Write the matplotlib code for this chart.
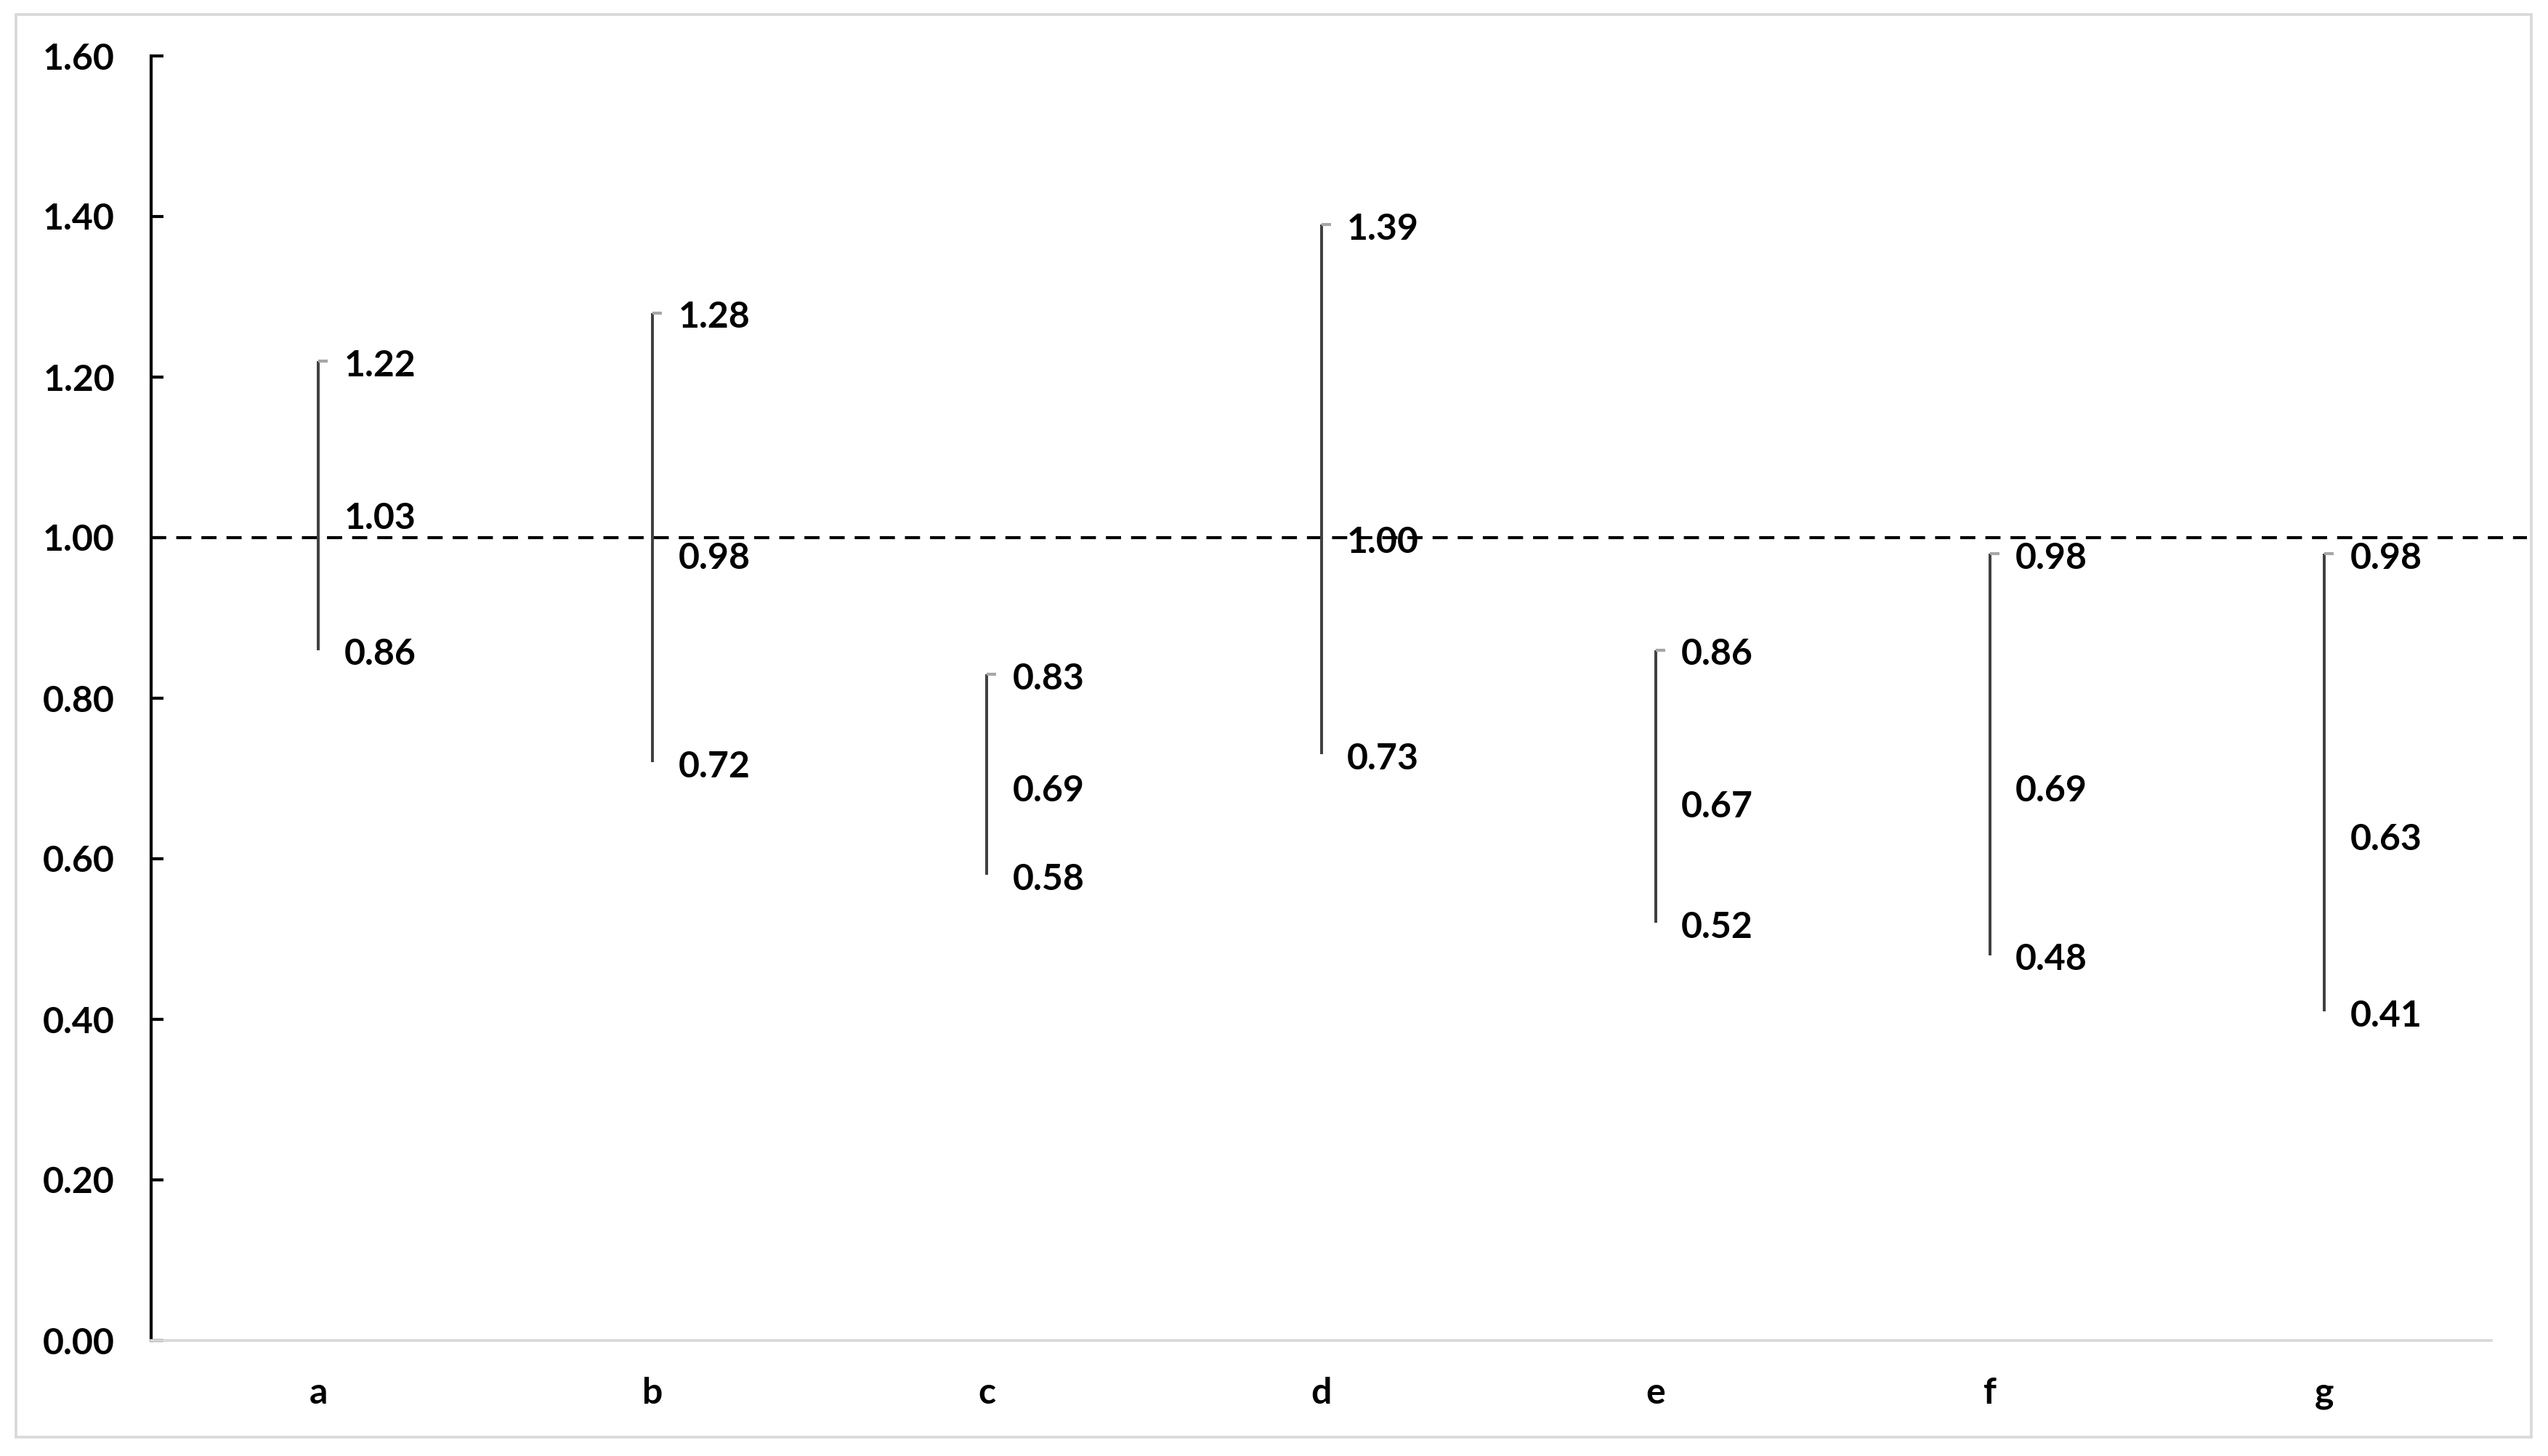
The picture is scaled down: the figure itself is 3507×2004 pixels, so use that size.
import numpy as np
import matplotlib
matplotlib.use("Agg")
import matplotlib.pyplot as plt
from matplotlib.patches import Rectangle

plt.rcParams['font.family'] = ['Lato', 'DejaVu Sans']

categories = ["a", "b", "c", "d", "e", "f", "g"]
high = [1.22, 1.28, 0.83, 1.39, 0.86, 0.98, 0.98]
mid = [1.03, 0.98, 0.69, 1.00, 0.67, 0.69, 0.63]
low = [0.86, 0.72, 0.58, 0.73, 0.52, 0.48, 0.41]
yticks = [0.0, 0.2, 0.4, 0.6, 0.8, 1.0, 1.2, 1.4, 1.6]
ref_level = 1.0

fig = plt.figure(figsize=(3507/300, 2004/300), dpi=300, facecolor="white")
ax = fig.add_axes([208/3507, 1-1845/2004, (3429-208)/3507, (1845-77)/2004])

x = np.arange(len(categories))

# high-low lines
ax.vlines(x, low, high, color="#404040", lw=0.95, zorder=3)
# small grey tick at the high end
ax.plot(x, high, ls="none", marker=[(0, 0), (1, 0)], markersize=6,
        markeredgecolor="#a6a6a6", markerfacecolor="#a6a6a6", mew=1.0, zorder=4)

# reference line at 1.0 running out to the chart border
ax.axhline(ref_level, xmin=0, xmax=1.0152, color="black", lw=1.0,
           dashes=(5, 3.3), clip_on=False, zorder=2)

# labels
for xi, h, m, l in zip(x, high, mid, low):
    for v in (h, m, l):
        ax.annotate("%.2f" % v, (xi, v), xytext=(8.5, -1.5), textcoords="offset points",
                    ha="left", va="center", fontsize=12, fontweight="bold",
                    color="black", zorder=5)

ax.set_xlim(-0.5, len(categories) - 0.5)
ax.set_ylim(0, 1.6)
ax.set_yticks(yticks)
ax.set_yticklabels(["%.2f" % t for t in yticks])
ax.set_xticks(x)
ax.set_xticklabels(categories)

ax.tick_params(axis="y", direction="in", length=4, width=1.0, color="black",
               labelsize=12, pad=12)
ax.tick_params(axis="x", length=0, labelsize=12, pad=12)
for lab in ax.get_xticklabels() + ax.get_yticklabels():
    lab.set_fontweight("bold")

ax.spines["top"].set_visible(False)
ax.spines["right"].set_visible(False)
ax.spines["left"].set_color("black")
ax.spines["left"].set_linewidth(1.0)
ax.spines["bottom"].set_color("#d9d9d9")
ax.spines["bottom"].set_linewidth(0.9)

# outer chart border
fig.patches.append(Rectangle((22/3507, 1-1978/2004), (3484-22)/3507, (1978-20)/2004,
                             transform=fig.transFigure, fill=False,
                             edgecolor="#d9d9d9", lw=0.9))

fig.savefig("out.png", dpi=300, facecolor="white")
